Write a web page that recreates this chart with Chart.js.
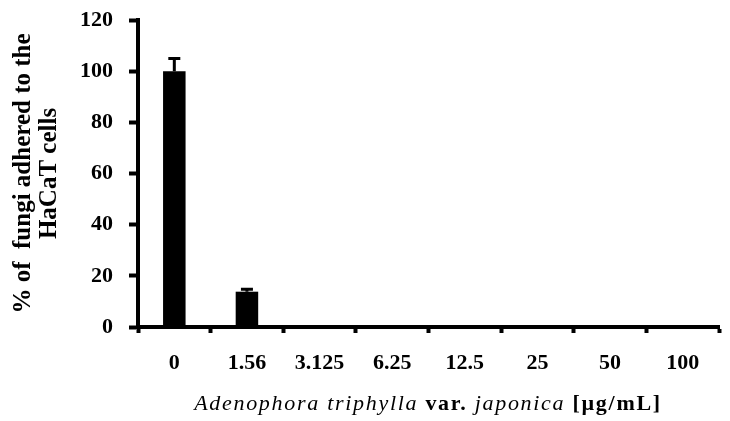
<!DOCTYPE html>
<html>
<head>
<meta charset="utf-8">
<script src="https://cdn.jsdelivr.net/npm/chart.js@4"></script>
<style>
  html, body { margin: 0; padding: 0; background: #fff; }
  #wrap { position: relative; width: 730px; height: 421px; }
  #xTitle {
    position: absolute; left: 137px; width: 582px; top: 392px; line-height: 22px;
    text-align: center; font-family: "Liberation Serif", serif; font-size: 22px; color: #000;
    letter-spacing: 1.7px; white-space: nowrap;
  }
</style>
</head>
<body>
<div id="wrap">
  <canvas id="chart" width="730" height="421"></canvas>
  <div id="xTitle"><i>Adenophora triphylla</i> <b>var.</b> <i>japonica</i> <b>[µg/mL]</b></div>
</div>
<script>
// concentrations and measured adhesion
const concentrations = ['0', '1.56', '3.125', '6.25', '12.5', '25', '50', '100'];
const adhesion = [100, 13.8, 0, 0, 0, 0, 0, 0];
const adhesionErr = [5, 1, 0, 0, 0, 0, 0, 0];
const yTicks = [0, 20, 40, 60, 80, 100, 120];

const serif = '"Liberation Serif", serif';

// draws the upward error bar with a cap on each bar
const errorBars = {
    id: 'errorBars',
    afterDatasetsDraw(chart) {
        const ctx = chart.ctx;
        const yScale = chart.scales.y;
        const bars = chart.getDatasetMeta(0).data;
        ctx.save();
        ctx.strokeStyle = '#000';
        ctx.lineWidth = 3;
        bars.forEach((bar, i) => {
            if (!adhesionErr[i]) return;
            const top = yScale.getPixelForValue(adhesion[i] + adhesionErr[i]);
            ctx.beginPath();
            ctx.moveTo(bar.x, bar.y);
            ctx.lineTo(bar.x, top);
            ctx.moveTo(bar.x - 6, top);
            ctx.lineTo(bar.x + 6, top);
            ctx.stroke();
        });
        ctx.restore();
    }
};

new Chart(document.getElementById('chart'), {
    type: 'bar',
    data: {
        labels: concentrations,
        datasets: [{
            data: adhesion,
            backgroundColor: '#000',
            barPercentage: 0.31,
            categoryPercentage: 1
        }]
    },
    options: {
        responsive: false,
        animation: false,
        layout: { padding: { top: 20, right: 11, left: 0, bottom: 0 } },
        plugins: { legend: { display: false }, tooltip: { enabled: false } },
        scales: {
            x: {
                afterFit: (s) => { s.height = 94; },
                grid: {
                    offset: true, drawOnChartArea: false, drawTicks: true,
                    tickLength: 6, tickWidth: 4, tickColor: '#000'
                },
                border: { display: true, width: 4, color: '#000' },
                ticks: {
                    color: '#000', padding: 17,
                    font: { family: serif, size: 22, weight: 'bold' }
                }
            },
            y: {
                min: 0, max: 120,
                afterFit: (s) => { s.width = 138; s.paddingTop = 0; s.paddingBottom = 0; },
                afterBuildTicks: (s) => { s.ticks = yTicks.map(v => ({ value: v })); },
                grid: {
                    drawOnChartArea: false, drawTicks: true,
                    tickLength: 9, tickWidth: 4, tickColor: '#000'
                },
                border: { display: true, width: 4, color: '#000' },
                ticks: {
                    color: '#000', padding: 16,
                    font: { family: serif, size: 22, weight: 'bold' }
                },
                title: {
                    display: true,
                    text: ['% of  fungi adhered to the', 'HaCaT cells'],
                    color: '#000',
                    padding: { top: 10, bottom: 0 },
                    font: { family: serif, size: 25, weight: 'bold', lineHeight: 1.05 }
                }
            }
        }
    },
    plugins: [errorBars]
});
</script>
</body>
</html>
